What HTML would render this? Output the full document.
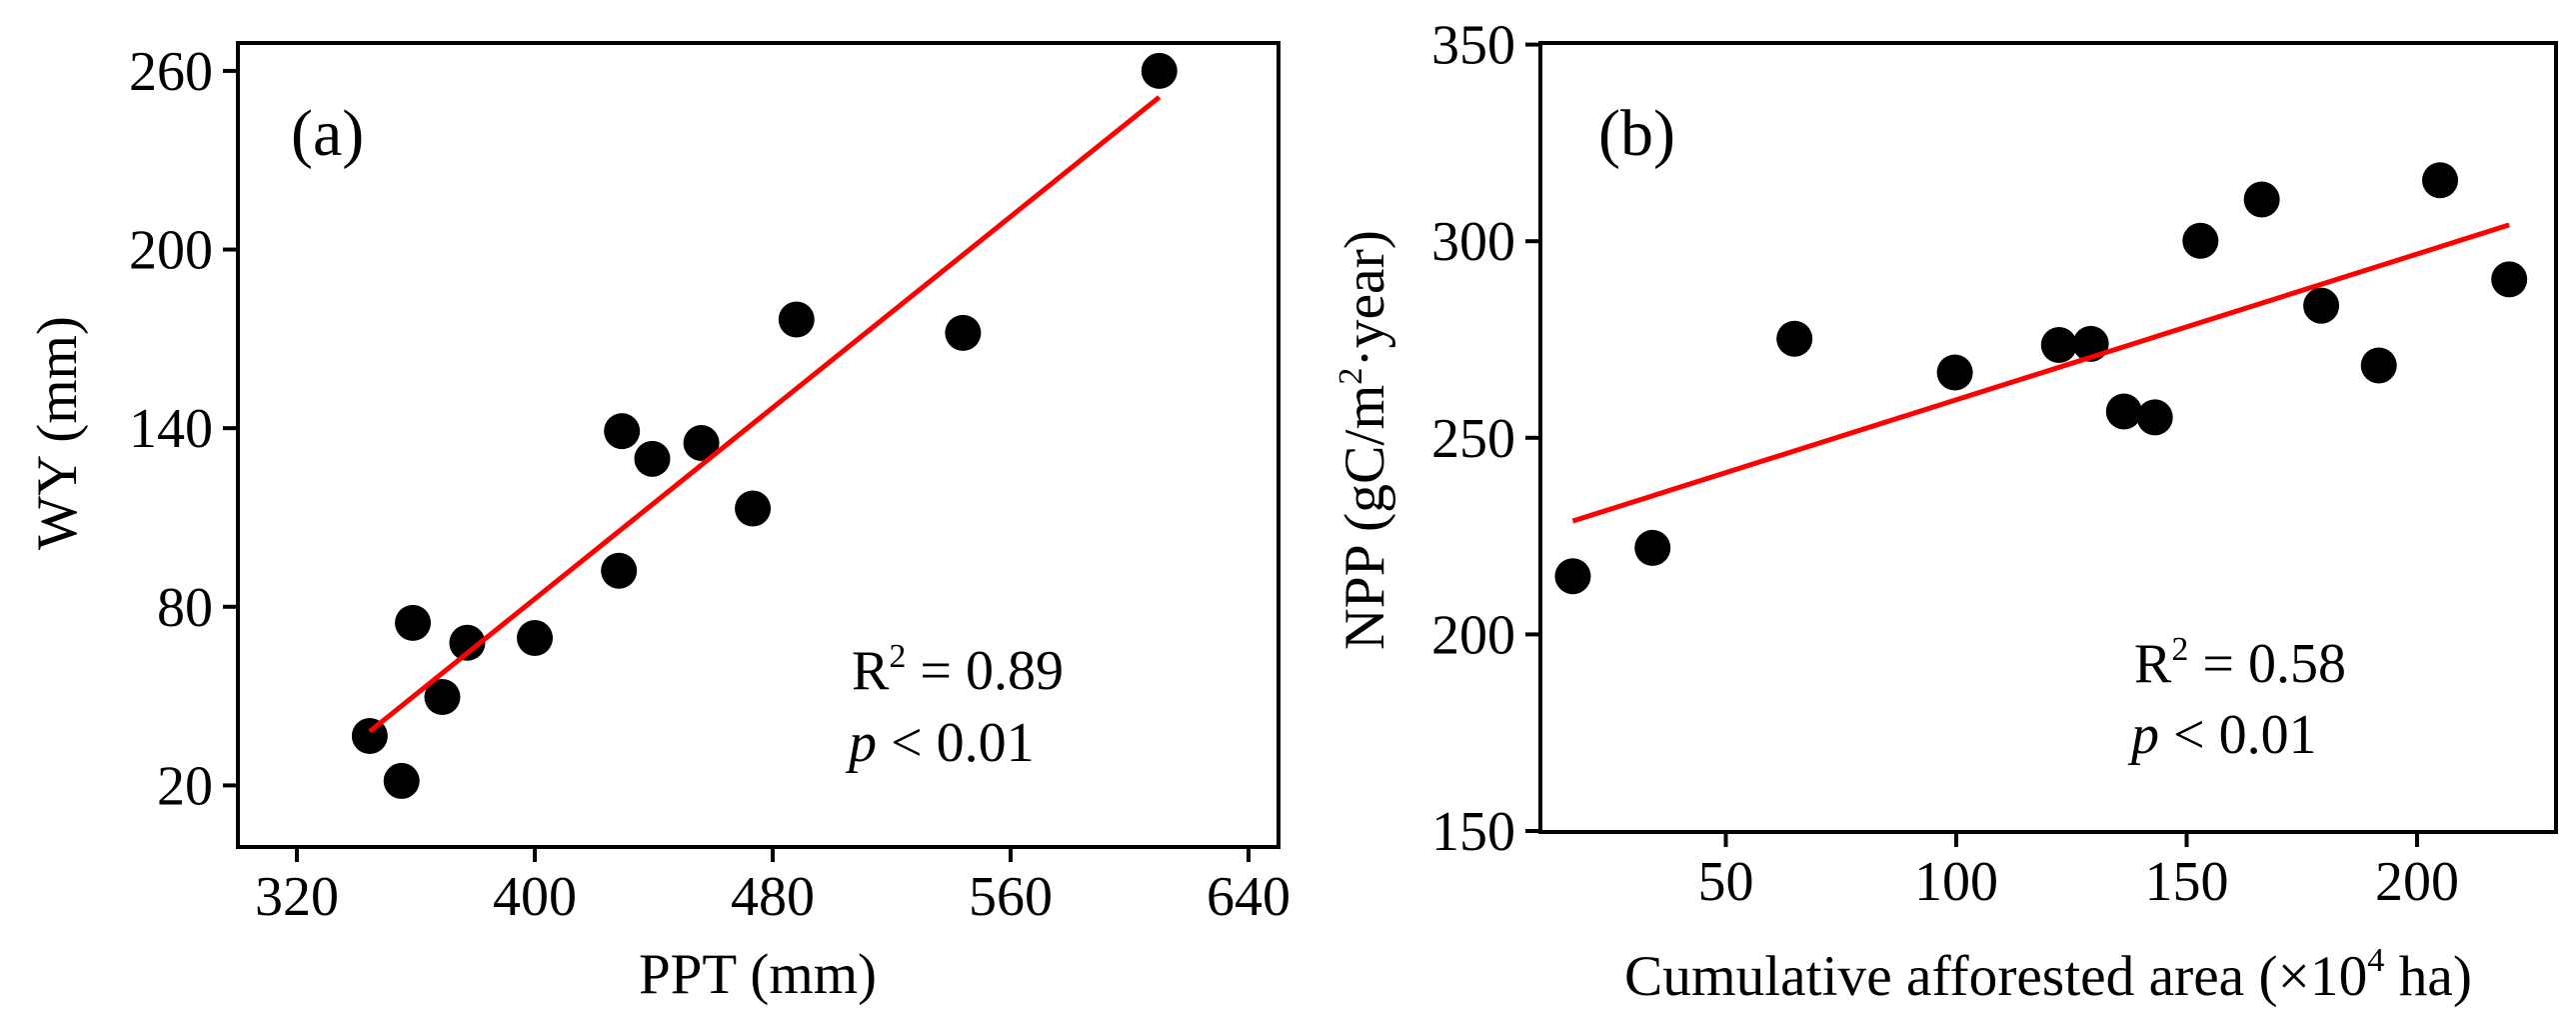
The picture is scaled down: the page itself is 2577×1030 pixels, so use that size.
<!DOCTYPE html>
<html><head><meta charset="utf-8"><style>
html,body{margin:0;padding:0;background:#fff;}
svg{display:block;font-family:"Liberation Serif","Times New Roman",serif;}
</style></head>
<body>
<svg id="chart" width="2577" height="1030" viewBox="0 0 2577 1030" xmlns="http://www.w3.org/2000/svg"></svg>
<script>
// Panel (a) data
const aTicksX = [320, 400, 480, 560, 640];
const aTicksY = [20, 80, 140, 200, 260];
const aPPT = [344.5, 355.2, 359, 368.9, 377.3, 400, 428.3, 429.3, 439.5, 456, 473.3, 488, 544, 610];
const aWY  = [36.6, 21.5, 74.6, 49.7, 67.9, 69.5, 92.1, 139, 129.7, 135, 113, 176.5, 172, 260];
const aStats = ["R", "= 0.89", "< 0.01"];
// Panel (b) data
const bTicksX = [50, 100, 150, 200];
const bTicksY = [150, 200, 250, 300, 350];
const bArea = [16.8, 34.1, 64.9, 99.7, 122.3, 129.2, 136.4, 143.1, 153.0, 166.3, 179.2, 191.7, 205.0, 220.0];
const bNPP  = [214.8, 222.0, 275.2, 266.6, 273.6, 273.9, 256.7, 255.2, 300.1, 310.6, 283.6, 268.4, 315.5, 290.3];
const bStats = ["R", "= 0.58", "< 0.01"];

const NS = "http://www.w3.org/2000/svg";
const svg = document.getElementById("chart");
function mk(tag, attrs, parent, text) {
  const e = document.createElementNS(NS, tag);
  for (const k in attrs) e.setAttribute(k, attrs[k]);
  if (text !== undefined) e.textContent = text;
  (parent || svg).appendChild(e);
  return e;
}
function linfit(xs, ys) {
  const n = xs.length;
  let mx = 0, my = 0;
  for (let i = 0; i < n; i++) { mx += xs[i]; my += ys[i]; }
  mx /= n; my /= n;
  let sxy = 0, sxx = 0;
  for (let i = 0; i < n; i++) { sxy += (xs[i]-mx)*(ys[i]-my); sxx += (xs[i]-mx)*(xs[i]-mx); }
  const b = sxy / sxx;
  return { b: b, a: my - b*mx };
}

function panel(cfg) {
  const g = mk("g", {});
  
  
  const X = v => cfg.x0 + (v - cfg.xv0) * cfg.xs;
  const Y = v => cfg.y0 - (v - cfg.yv0) * cfg.ys;
  // frame
  const fr = mk("rect", {x: cfg.L, y: cfg.T, width: cfg.R - cfg.L, height: cfg.B - cfg.T, fill: "none", stroke: "#000", "stroke-width": 4}, g);
  
  
  // x ticks
  cfg.tx.forEach(v => {
    const t = mk("line", {x1: X(v), x2: X(v), y1: cfg.B, y2: cfg.B + 15, stroke: "#000", "stroke-width": 4}, g);
    
    
    const l = mk("text", {x: X(v), y: cfg.B + 68, "text-anchor": "middle", "font-size": 56}, g, String(v));
    
    
  });
  cfg.ty.forEach(v => {
    const t = mk("line", {x1: cfg.L - 15, x2: cfg.L, y1: Y(v), y2: Y(v), stroke: "#000", "stroke-width": 4}, g);
    
    
    const l = mk("text", {x: cfg.L - 25, y: Y(v) + 19, "text-anchor": "end", "font-size": 56}, g, String(v));
    
    
  });
  // points
  cfg.xs_d.forEach((xv, i) => {
    const c = mk("ellipse", {cx: X(xv), cy: Y(cfg.ys_d[i]), rx: 18, ry: 18, fill: "#000"}, g);
    
    
  });
  // regression
  const f = linfit(cfg.xs_d, cfg.ys_d);
  const xmin = Math.min(...cfg.xs_d), xmax = Math.max(...cfg.xs_d);
  const ln = mk("line", {x1: X(xmin), y1: Y(f.a + f.b*xmin), x2: X(xmax), y2: Y(f.a + f.b*xmax), stroke: "#ff0000", "stroke-width": 5}, g);
  
  
  // panel label
  const pl = mk("text", {x: cfg.plx, y: 155, "font-size": 66}, g, cfg.plabel);
  
  
  // stats
  const r = mk("text", {x: cfg.sx, y: cfg.sy1, "font-size": 56}, g);
  
  
  mk("tspan", {}, r, cfg.stats[0]);
  mk("tspan", {dy: -22, "font-size": 34}, r, "2");
  mk("tspan", {dy: 22}, r, " " + cfg.stats[1]);
  const p = mk("text", {x: cfg.sx - 3, y: cfg.sy2, "font-size": 56}, g);
  
  
  mk("tspan", {"font-style": "italic"}, p, "p");
  mk("tspan", {}, p, " " + cfg.stats[2]);
  return g;
}

panel({name: "panel-a", L: 238, T: 43, R: 1279, B: 847,
  x0: 297, xv0: 320, xs: 2.975, y0: 785.4, yv0: 20, ys: 2.977,
  tx: aTicksX, ty: aTicksY, xs_d: aPPT, ys_d: aWY,
  plabel: "(a)", plx: 291, stats: aStats, sx: 852, sy1: 689, sy2: 761});
panel({name: "panel-b", L: 1541, T: 43, R: 2557, B: 832,
  x0: 1496, xv0: 0, xs: 4.61, y0: 831, yv0: 150, ys: 3.932,
  tx: bTicksX, ty: bTicksY, xs_d: bArea, ys_d: bNPP,
  plabel: "(b)", plx: 1599, stats: bStats, sx: 2135, sy1: 682, sy2: 753});

// axis titles
let t = mk("text", {x: 758, y: 993, "text-anchor": "middle", "font-size": 57}, svg, "PPT (mm)");


t = mk("text", {x: 0, y: 0, "text-anchor": "middle", "font-size": 57, transform: "translate(76,433) rotate(-90)"}, svg, "WY (mm)");


t = mk("text", {x: 1625, y: 995, "font-size": 57, textLength: 848, lengthAdjust: "spacingAndGlyphs"}, svg);


mk("tspan", {}, t, "Cumulative afforested area (×10");
mk("tspan", {dy: -24, "font-size": 34}, t, "4");
mk("tspan", {dy: 24}, t, " ha)");
t = mk("text", {x: 0, y: 0, "text-anchor": "middle", "font-size": 57, transform: "translate(1384,440) rotate(-90)", textLength: 420, lengthAdjust: "spacingAndGlyphs"}, svg);


mk("tspan", {}, t, "NPP (gC/m");
mk("tspan", {dy: -22, "font-size": 34}, t, "2");
mk("tspan", {dy: 22}, t, "·year)");
</script>
</body></html>
